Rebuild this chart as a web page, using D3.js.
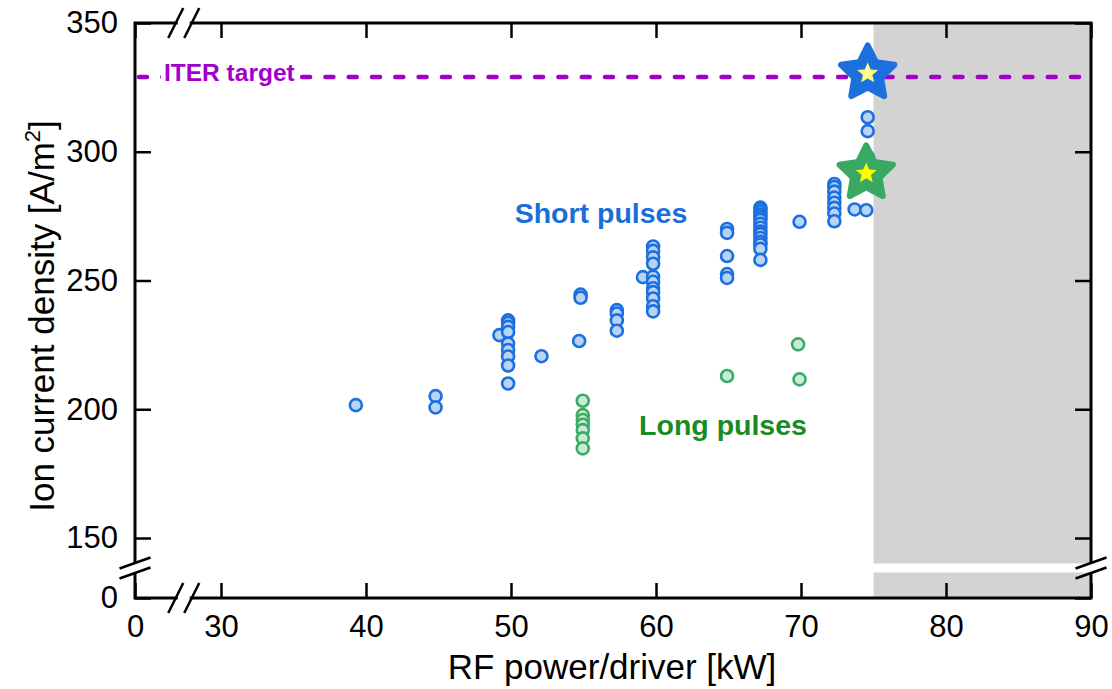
<!DOCTYPE html>
<html>
<head>
<meta charset="utf-8">
<script src="https://cdn.jsdelivr.net/npm/d3@7"></script>
<style>
  body { margin: 0; background: #fff; }
  svg { display: block; font-family: "Liberation Sans", Arial, sans-serif; }
</style>
</head>
<body>
<div id="chart"></div>
<script>
// Short pulses (blue) : RF power per driver [kW], ion current density [A/m2]
const shortX = [39.3, 44.8, 44.8, 49.2,
  49.8, 49.8, 49.8, 49.8, 49.8, 49.8, 49.8, 49.8, 49.8,
  52.1, 54.7, 54.8, 54.8,
  57.3, 57.3, 57.3, 57.3,
  59.1, 59.8, 59.8, 59.8, 59.8, 59.8, 59.8, 59.8, 59.8, 59.8, 59.8, 59.8,
  64.9, 64.9, 64.9, 64.9, 64.9,
  67.2, 67.2, 67.2, 67.2, 67.2, 67.2, 67.2, 67.2, 67.2, 67.2, 67.2, 67.2, 67.2, 67.2, 67.2,
  69.9,
  72.3, 72.3, 72.3, 72.3, 72.3, 72.3, 72.3, 72.3,
  73.7, 74.5, 74.6, 74.6, 74.6];
const shortY = [201.6, 205.1, 200.7, 228.8,
  234.5, 233.5, 232, 230, 225.5, 223, 220.5, 217, 210,
  220.6, 226.5, 244.5, 243.3,
  238.5, 237.2, 234.5, 230.5,
  251.3, 263.2, 261.5, 259, 256.5, 251.5, 249.5, 247, 245.5, 243, 240, 238,
  270, 268.5, 259.5, 252.5, 251,
  278.3, 277.5, 276.5, 275.5, 274.5, 273.5, 272, 270.5, 269, 268, 266.5, 265, 264, 262.3, 258,
  272.8,
  287.5, 286.3, 284.5, 282.2, 280.2, 278.2, 276, 273,
  277.6, 277.3, 313.4, 308, 298];

// Long pulses (green)
const longX = [54.95, 54.95, 54.95, 54.95, 54.95, 54.95, 54.95, 64.9, 69.8, 69.9];
const longY = [203.3, 197.7, 195.8, 194, 191.9, 188.7, 184.8, 212.9, 225.2, 211.6];

// Record values (stars)
const starX = [74.6, 74.5];
const starY = [330.4, 291.6];
const starKind = ["short", "long"];

const iterTarget = 329;
const shadeFrom = 75;

const xTicks = [0, 30, 40, 50, 60, 70, 80, 90];
const yTicks = [0, 150, 200, 250, 300, 350];

document.addEventListener("DOMContentLoaded", function () {
  const W = 1112, H = 689;
  const left = 135, right = 1091, top = 23, bottom = 598;

  // broken axes: 0..30 and 0..150 are squeezed
  const x = d3.scaleLinear().domain([0, 30, 90]).range([left, 221, right]);
  const y = d3.scaleLinear().domain([0, 150, 350]).range([bottom, 538, top]);

  const svg = d3.select("#chart").append("svg")
    .attr("width", W).attr("height", H);

  // shaded region beyond 75 kW
  svg.append("rect")
    .attr("x", x(shadeFrom)).attr("y", y(350))
    .attr("width", x(90) - x(shadeFrom)).attr("height", y(0) - y(350))
    .attr("fill", "#d3d3d3");

  const yb = y(75), xb = x(17);
  // white gap of the y break
  svg.append("rect")
    .attr("x", left).attr("y", yb - 4.5)
    .attr("width", right - left).attr("height", 9)
    .attr("fill", "#fff");

  // ITER target line
  svg.append("line")
    .attr("x1", left + 4).attr("x2", right)
    .attr("y1", y(iterTarget)).attr("y2", y(iterTarget))
    .attr("stroke", "#a000c8").attr("stroke-width", 4.5)
    .attr("stroke-linecap", "round")
    .attr("stroke-dasharray", "8 15.3");

  svg.append("rect")
    .attr("x", 161).attr("y", y(iterTarget) - 17)
    .attr("width", 137).attr("height", 32)
    .attr("fill", "#fff");
  svg.append("text")
    .attr("x", 164).attr("y", y(iterTarget) + 4)
    .attr("font-size", "24.5px").attr("font-weight", "bold")
    .attr("fill", "#a000c8")
    .text("ITER target");

  // axes, ticks inward
  const fontSize = "31px";
  const gB = svg.append("g").attr("transform", `translate(0,${bottom})`)
    .call(d3.axisBottom(x).tickValues(xTicks).tickSizeInner(-15).tickSizeOuter(0).tickPadding(17));
  const gL = svg.append("g").attr("transform", `translate(${left},0)`)
    .call(d3.axisLeft(y).tickValues(yTicks).tickSizeInner(-16).tickSizeOuter(0).tickPadding(17));
  const gT = svg.append("g").attr("transform", `translate(0,${top})`)
    .call(d3.axisTop(x).tickValues(xTicks).tickSizeInner(-15).tickSizeOuter(0).tickFormat(""));
  const gR = svg.append("g").attr("transform", `translate(${right},0)`)
    .call(d3.axisRight(y).tickValues(yTicks).tickSizeInner(-16).tickSizeOuter(0).tickFormat(""));

  [gB, gL, gT, gR].forEach(g => {
    g.select(".domain").remove();
    g.selectAll(".tick line").attr("stroke", "#000").attr("stroke-width", 2.5);
    g.selectAll(".tick text")
      .attr("font-family", "Liberation Sans, Arial, sans-serif")
      .attr("font-size", fontSize).attr("fill", "#000");
  });

  // frame
  svg.append("rect")
    .attr("x", left).attr("y", top)
    .attr("width", right - left).attr("height", bottom - top)
    .attr("fill", "none").attr("stroke", "#000").attr("stroke-width", 3);

  // break marks
  function cutX(cx, cy) {
    svg.append("rect").attr("x", cx - 6).attr("y", cy - 3).attr("width", 12).attr("height", 6).attr("fill", "#fff");
    [-8, 8].forEach(o => {
      svg.append("line")
        .attr("x1", cx + o - 7.5).attr("y1", cy + 15)
        .attr("x2", cx + o + 7.5).attr("y2", cy - 15)
        .attr("stroke", "#000").attr("stroke-width", 2.5);
    });
  }
  function cutY(cx, cy) {
    svg.append("rect").attr("x", cx - 3).attr("y", cy - 4.5).attr("width", 6).attr("height", 9).attr("fill", "#fff");
    [-5, 5].forEach(o => {
      svg.append("line")
        .attr("x1", cx - 15.5).attr("y1", cy + o + 5.5)
        .attr("x2", cx + 15.5).attr("y2", cy + o - 5.5)
        .attr("stroke", "#000").attr("stroke-width", 2.5);
    });
  }
  cutX(xb, bottom);
  cutX(xb, top);
  cutY(left, yb);
  cutY(right, yb);

  // data points
  svg.append("g").selectAll("circle")
    .data(shortX.map((v, i) => [v, shortY[i]]))
    .join("circle")
    .attr("cx", d => x(d[0])).attr("cy", d => y(d[1])).attr("r", 6)
    .attr("fill", "#b9d3f4").attr("stroke", "#1b6fe0").attr("stroke-width", 2.6);

  svg.append("g").selectAll("circle")
    .data(longX.map((v, i) => [v, longY[i]]))
    .join("circle")
    .attr("cx", d => x(d[0])).attr("cy", d => y(d[1])).attr("r", 6)
    .attr("fill", "#c8ecd6").attr("stroke", "#3aad62").attr("stroke-width", 2.6);

  // stars
  function starPath(R, ratio) {
    const pts = [];
    for (let i = 0; i < 10; i++) {
      const r = i % 2 ? R * ratio : R;
      const a = -Math.PI / 2 + i * Math.PI / 5;
      pts.push([r * Math.cos(a), r * Math.sin(a)]);
    }
    return "M" + pts.map(p => p.join(",")).join("L") + "Z";
  }
  const starStyle = {
    short: { fill: "#1c6fdd", inner: "#ffff88" },
    long: { fill: "#38a862", inner: "#ffff00" }
  };
  starX.forEach((v, i) => {
    const st = starStyle[starKind[i]];
    const g = svg.append("g").attr("transform", `translate(${x(v)},${y(starY[i])})`);
    g.append("path").attr("d", starPath(28, 0.5))
      .attr("fill", st.fill).attr("stroke", st.fill)
      .attr("stroke-width", 6).attr("stroke-linejoin", "round");
    g.append("path").attr("d", starPath(11, 0.45)).attr("fill", st.inner);
  });

  // annotations
  svg.append("text")
    .attr("x", 601).attr("y", 223).attr("text-anchor", "middle")
    .attr("font-size", "28.5px").attr("font-weight", "bold").attr("fill", "#1a6fd6")
    .text("Short pulses");
  svg.append("text")
    .attr("x", 723).attr("y", 435).attr("text-anchor", "middle")
    .attr("font-size", "28.5px").attr("font-weight", "bold").attr("fill", "#1a8a22")
    .text("Long pulses");

  // axis titles
  svg.append("text")
    .attr("x", 612).attr("y", 679).attr("text-anchor", "middle")
    .attr("font-size", "35px").attr("fill", "#000")
    .text("RF power/driver [kW]");

  const yt = svg.append("text")
    .attr("transform", "translate(54,316) rotate(-90)")
    .attr("text-anchor", "middle")
    .attr("font-size", "35px").attr("fill", "#000");
  yt.append("tspan").text("Ion current density [A/m");
  yt.append("tspan").attr("font-size", "22px").attr("dy", "-14").text("2");
  yt.append("tspan").attr("dy", "14").text("]");
});
</script>
</body>
</html>
